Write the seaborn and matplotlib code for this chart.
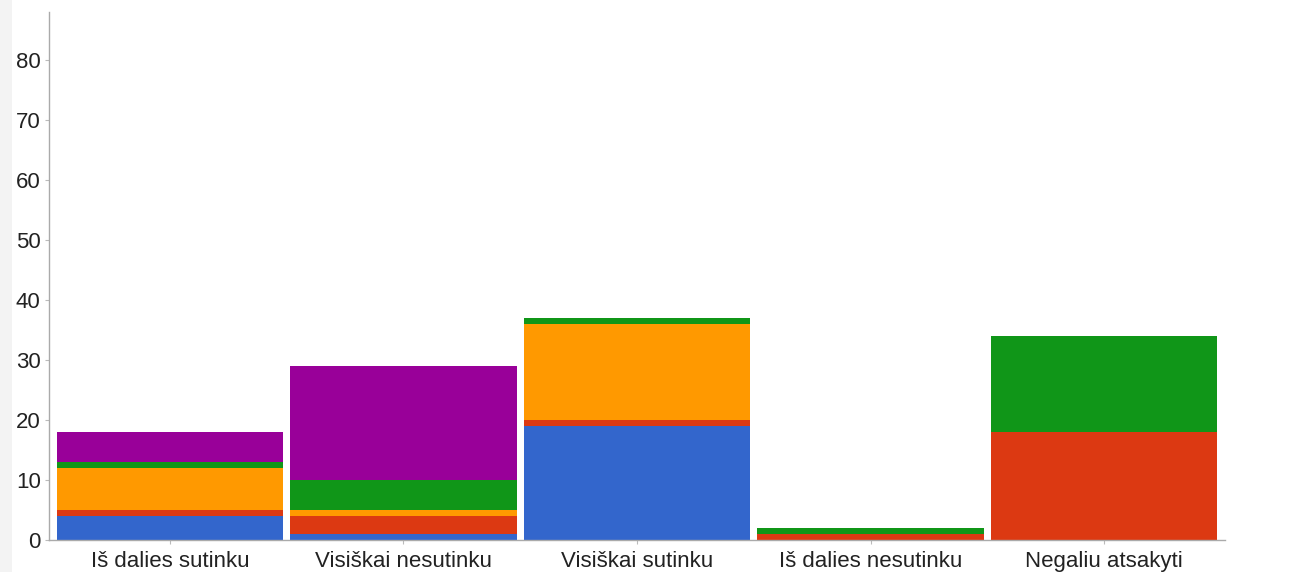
import matplotlib
matplotlib.use("Agg")
import matplotlib.pyplot as plt
from matplotlib.patches import Rectangle
import seaborn as sns
import numpy as np
import pandas as pd

categories = ["Iš dalies sutinku", "Visiškai nesutinku", "Visiškai sutinku",
              "Iš dalies nesutinku", "Negaliu atsakyti"]
blue = [4, 1, 19, 0, 0]
red = [1, 3, 1, 1, 18]
orange = [7, 1, 16, 0, 0]
green = [1, 5, 1, 1, 16]
purple = [5, 19, 0, 0, 0]
colors = ["#3366CC", "#DC3912", "#FF9900", "#109618", "#990099"]
yticks = [0, 10, 20, 30, 40, 50, 60, 70, 80]

series = [blue, red, orange, green, purple]

sns.set_theme(style="white")
plt.rcParams["font.family"] = ["Liberation Sans", "DejaVu Sans"]

W, H = 1307, 572
fig = plt.figure(figsize=(W / 100, H / 100), dpi=100)
fig.patches.append(Rectangle((0, 0), 12 / W, 1, transform=fig.transFigure,
                             facecolor="#f3f3f3", edgecolor="none", zorder=0))
ax = fig.add_axes([49 / W, (H - 540) / H, (1225 - 49) / W, (540 - 12) / H])
ax.patch.set_alpha(0)

cum = np.cumsum(np.array(series), axis=0)
# draw from top layer down so the lower layers cover the upper cumulative bars
for i in range(len(series) - 1, -1, -1):
    df = pd.DataFrame({"cat": categories, "val": cum[i]})
    sns.barplot(data=df, x="cat", y="val", order=categories, color=colors[i],
                saturation=1, width=0.97, linewidth=0, ax=ax, errorbar=None)

ax.set_xlim(-0.518, 4.518)
ax.set_ylim(0, 88)
ax.set_yticks(yticks)
ax.set_xlabel("")
ax.set_ylabel("")
for s in ["top", "right"]:
    ax.spines[s].set_visible(False)
for s in ["left", "bottom"]:
    ax.spines[s].set_color("#aaaaaa")
    ax.spines[s].set_linewidth(1.0)
ax.tick_params(axis="both", which="both", length=3, width=0.8, color="#bbbbbb",
               labelcolor="#222222", direction="out")
ax.tick_params(axis="y", left=True, labelsize=16, pad=3)
ax.tick_params(axis="x", bottom=True, labelsize=16, pad=16.4)
for lbl in ax.get_xticklabels():
    lbl.set_verticalalignment("baseline")

fig.savefig("out.png", dpi=100, facecolor="white")
